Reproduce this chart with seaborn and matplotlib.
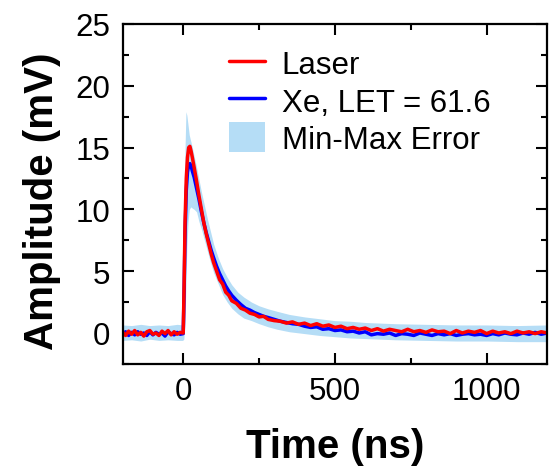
import matplotlib
matplotlib.use("Agg")
import matplotlib.pyplot as plt
import seaborn as sns
import pandas as pd
from matplotlib.ticker import MultipleLocator

# time axis for the two traces (ns)
time_ns = [-200, -190, -180, -170, -160, -150, -140, -130, -120, -110, -100, -90, -80, -70, -60,
           -50, -40, -30, -20, -10, 0,
           3, 6, 10, 14, 18, 22, 26, 30, 36, 44, 52, 60, 68, 76, 84, 92, 100, 110, 120, 130, 140,
           150, 160, 175, 190, 205, 220, 235, 250, 265, 280, 300,
           320, 340, 360, 380, 400, 420, 440, 460, 480, 500, 520, 540, 560, 580, 600, 620, 640,
           660, 680, 700, 720, 740, 760, 780, 800, 820, 840, 860, 880, 900, 920, 940, 960, 980,
           1000, 1020, 1040, 1060, 1080, 1100, 1120, 1140, 1160, 1180, 1200]

laser_mv = [0.1, -0.2, 0.15, -0.1, 0.2, -0.15, 0.05, -0.25, 0.1, 0.2, -0.1, 0.0, -0.2, 0.15, -0.05,
            0.2, -0.15, 0.1, -0.1, 0.05, 0.0,
            4.0, 9.0, 12.5, 14.2, 15.0, 15.1, 14.7, 14.2, 13.4, 12.3, 11.1, 10.0, 8.9, 8.0, 7.2,
            6.4, 5.7, 5.0, 4.3, 3.95, 3.3, 3.05, 2.6, 2.4, 2.0, 1.85, 1.6, 1.5, 1.3, 1.35, 1.1, 1.0,
            0.95, 0.8, 0.9, 0.7, 0.8, 0.6, 0.75, 0.55, 0.65, 0.45, 0.55, 0.35, 0.45, 0.3, 0.4, 0.2,
            0.35, 0.15, 0.3, 0.2, 0.1, 0.3, 0.1, 0.2, 0.05, 0.25, 0.1, 0.15, -0.05, 0.2, 0.0, 0.15,
            0.05, 0.2, -0.05, 0.15, 0.0, 0.1, -0.05, 0.15, 0.0, 0.1, -0.05, 0.1, 0.0]

xe_mv = [-0.1, 0.1, -0.2, 0.05, -0.15, 0.1, -0.1, 0.0, -0.2, 0.1, -0.15, 0.05, -0.1, 0.0, -0.25,
         0.1, -0.05, -0.15, 0.05, -0.1, -0.05,
         3.5, 8.0, 11.5, 13.0, 13.6, 13.7, 13.5, 13.1, 12.6, 11.7, 10.8, 9.8, 8.9, 8.1, 7.4,
         6.7, 6.1, 5.4, 4.8, 4.3, 3.8, 3.4, 3.05, 2.65, 2.3, 2.0, 1.85, 1.65, 1.5, 1.35, 1.25, 1.1,
         0.95, 0.85, 0.75, 0.7, 0.55, 0.45, 0.5, 0.3, 0.35, 0.2, 0.25, 0.1, 0.15, 0.0, 0.1, -0.15,
         -0.05, -0.1, 0.0, -0.2, -0.05, -0.1, -0.2, 0.0, -0.1, -0.2, -0.05, -0.15, -0.05, -0.2,
         -0.1, -0.05, -0.15, -0.1, -0.2, -0.05, -0.15, 0.0, -0.1, -0.15, 0.0, -0.1, 0.05, -0.1, 0.0]

# min-max envelope
band_ns = [-200, -170, -140, -110, -80, -50, -20, -2, 2, 6, 9, 12, 16, 20, 25, 30, 36, 44, 52, 60,
           70, 80, 90, 100, 115, 130, 145, 160, 180, 200, 225, 250, 280, 310, 350, 400, 450, 500,
           550, 600, 700, 800, 900, 1000, 1100, 1200]
band_max = [0.65, 0.6, 0.7, 0.6, 0.65, 0.6, 0.7, 0.65, 8.0, 15.0, 17.9, 17.6, 16.8, 16.0, 15.5,
            15.0, 14.3, 13.4, 12.4, 11.4, 10.3, 9.2, 8.2, 7.2, 6.1, 5.2, 4.5, 3.9, 3.3, 2.9, 2.5,
            2.2, 1.95, 1.75, 1.5, 1.3, 1.15, 1.0, 0.95, 0.85, 0.75, 0.7, 0.65, 0.65, 0.6, 0.65]
band_min = [-0.6, -0.55, -0.65, -0.5, -0.6, -0.55, -0.6, -0.6, -0.5, 1.0, 4.0, 7.0, 9.0, 10.0, 10.2,
            10.1, 10.0, 9.8, 9.0, 8.4, 7.5, 6.6, 5.7, 4.9, 4.0, 3.1, 2.5, 2.0, 1.55, 1.2, 1.0,
            0.75, 0.5, 0.3, 0.1, -0.05, -0.2, -0.3, -0.4, -0.45, -0.55, -0.6, -0.65, -0.65,
            -0.7, -0.7]

sns.set_theme(style="ticks")
plt.rcParams['font.family'] = ['Liberation Sans', 'DejaVu Sans']
plt.rcParams['text.color'] = 'black'
plt.rcParams['axes.labelcolor'] = 'black'

df = pd.DataFrame({"t": time_ns, "laser": laser_mv, "xe": xe_mv})

fig = plt.figure(figsize=(5.52, 4.77), dpi=100)
ax = fig.add_axes([0.222, 0.235, 0.7695, 0.7128])

ax.fill_between(band_ns, band_min, band_max, color="#b5ddf6", lw=0, label="Min-Max Error")
sns.lineplot(data=df, x="t", y="xe", color="#0000ff", lw=2.5, sort=False, estimator=None,
             ax=ax, label="Xe, LET = 61.6")
sns.lineplot(data=df, x="t", y="laser", color="#ff0000", lw=2.5, sort=False, estimator=None,
             ax=ax, label="Laser")

ax.set_xlim(-200, 1200)
ax.set_ylim(-2.5, 25)
ax.xaxis.set_major_locator(MultipleLocator(500))
ax.xaxis.set_minor_locator(MultipleLocator(250))
ax.yaxis.set_major_locator(MultipleLocator(5))
ax.yaxis.set_minor_locator(MultipleLocator(2.5))
ax.tick_params(which="both", direction="in", top=True, right=True, width=1.5, colors="black",
               labelsize=22.5)
ax.tick_params(which="major", length=8, pad=9)
ax.tick_params(which="minor", length=4.5)
for s in ax.spines.values():
    s.set_linewidth(1.6)
    s.set_color("black")

ax.set_xlabel("Time (ns)", fontsize=29, fontweight="bold", color="black")
ax.set_ylabel("Amplitude (mV)", fontsize=29, fontweight="bold", color="black")
ax.xaxis.set_label_coords(0.5, -0.185)
ax.yaxis.set_label_coords(-0.145, 0.48)

h, l = ax.get_legend_handles_labels()
order = [l.index("Laser"), l.index("Xe, LET = 61.6"), l.index("Min-Max Error")]
leg = ax.legend([h[i] for i in order], [l[i] for i in order], loc="upper left",
                bbox_to_anchor=(0.25, 0.93), frameon=False, fontsize=22.5, borderpad=0,
                borderaxespad=0, handlelength=1.15, handleheight=1.1, handletextpad=0.55,
                labelspacing=0.15)
for txt in leg.get_texts():
    txt.set_color("black")

fig.savefig("out.png", dpi=100)
